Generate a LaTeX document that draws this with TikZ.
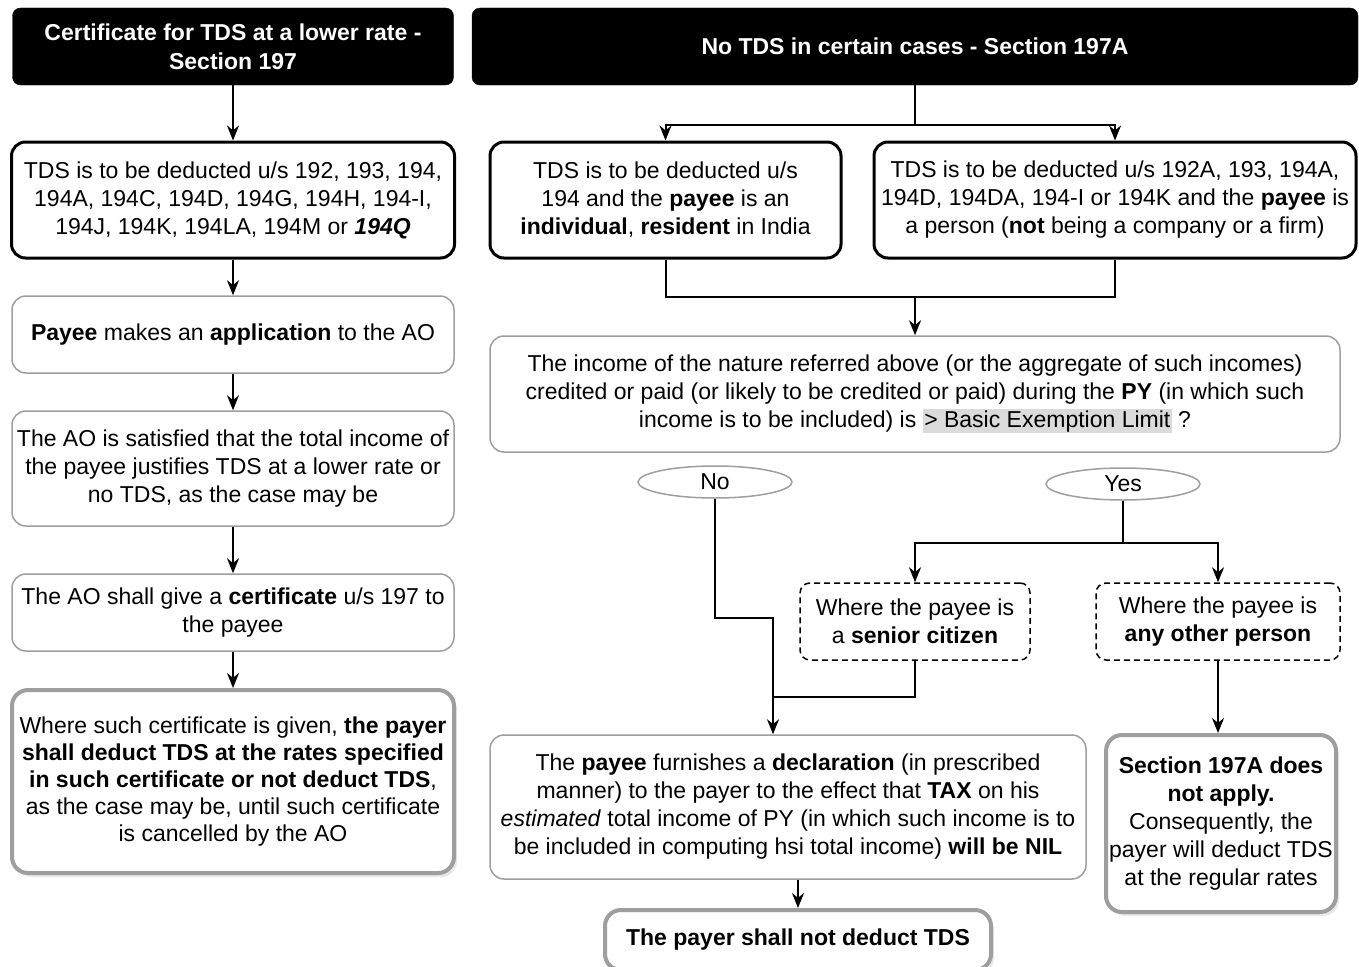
\documentclass[tikz,border=0pt]{standalone}
\usepackage{fontspec}
\setmainfont{Liberation Sans}
\usetikzlibrary{shapes.geometric,shadows,arrows.meta}
\definecolor{boxgray}{gray}{0.62}
\definecolor{hlgray}{gray}{0.86}
\setlength{\fboxsep}{1.5pt}
\begin{document}
\begin{tikzpicture}[x=1pt,y=-1pt,
		every node/.style={font=\fontsize{23}{28}\selectfont, align=center, inner sep=0pt},
		head/.style={fill=black, draw=black, rounded corners=8pt, text=white, font=\fontsize{23}{29}\selectfont\bfseries},
		hard/.style={draw=black, line width=3pt, rounded corners=14pt},
		soft/.style={draw=boxgray, line width=1.5pt, rounded corners=14pt},
		heavy/.style={draw=boxgray, line width=4pt, rounded corners=16pt, fill=white,
			drop shadow={shadow xshift=3pt, shadow yshift=-4pt, opacity=0.18}},
		dashbox/.style={draw=black, line width=1.5pt, dash pattern=on 6pt off 4pt, rounded corners=10pt},
		answer/.style={ellipse, draw=boxgray, line width=1.5pt, minimum width=154pt, minimum height=32pt},
		line/.style={draw, line width=2pt},
		arr/.style={line, -{Stealth[length=15pt,width=12pt]}}]
	\useasboundingbox (0,0) rectangle (1359,966);

	\node[head, minimum width=441pt, minimum height=77pt] (cert) at (233,46.5) {Certificate for TDS at a lower rate -\\Section 197};
	\node[hard, minimum width=443pt, minimum height=116pt] (cond) at (233,200) {TDS is to be deducted u/s 192, 193, 194,\\194A, 194C, 194D, 194G, 194H, 194-I,\\194J, 194K, 194LA, 194M or \textbf{\textit{194Q}}};
	\node[soft, minimum width=442pt, minimum height=77pt] (appl) at (233,334.5) {\textbf{Payee} makes an \textbf{application} to the AO};
	\node[soft, minimum width=442pt, minimum height=115pt] (satis) at (233,468.5) {The AO is satisfied that the total income of\\the payee justifies TDS at a lower rate or\\no TDS, as the case may be};
	\node[soft, minimum width=442pt, minimum height=77pt] (give) at (233,612.5) {The AO shall give a \textbf{certificate} u/s 197 to\\the payee};
	\node[heavy, minimum width=442pt, minimum height=183pt, font=\fontsize{23}{27}\selectfont] (deduct) at (233,781.5) {Where such certificate is given, \textbf{the payer}\\\textbf{shall deduct TDS at the rates specified}\\\textbf{in such certificate or not deduct TDS},\\as the case may be, until such certificate\\is cancelled by the AO};
	\foreach \a/\b in {cert/cond,cond/appl,appl/satis,satis/give,give/deduct}
		\draw[arr] (\a) -- (\b);

	\node[head, minimum width=886pt, minimum height=77pt] (notds) at (915,46.5) {No TDS in certain cases - Section 197A};
	\node[hard, minimum width=351pt, minimum height=116pt] (case1) at (665.5,200) {TDS is to be deducted u/s\\194 and the \textbf{payee} is an\\\textbf{individual}, \textbf{resident} in India};
	\node[hard, minimum width=482pt, minimum height=116pt] (case2) at (1115,200) {TDS is to be deducted u/s 192A, 193, 194A,\\194D, 194DA, 194-I or 194K and the \textbf{payee} is\\a person (\textbf{not} being a company or a firm)};
	\node[soft, minimum width=850pt, minimum height=116pt] (income) at (915,394) {The income of the nature referred above (or the aggregate of such incomes)\\credited or paid (or likely to be credited or paid) during the \textbf{PY} (in which such\\income is to be included) is \colorbox{hlgray}{> Basic Exemption Limit} ?};
	\node[answer] (no) at (715,482) {No};
	\node[answer] (yes) at (1123,484) {Yes};
	\node[dashbox, minimum width=230pt, minimum height=77pt] (senior) at (915,621.5) {Where the payee is\\a \textbf{senior citizen}};
	\node[dashbox, minimum width=244pt, minimum height=77pt] (other) at (1218,621.5) {Where the payee is\\\textbf{any other person}};
	\node[soft, minimum width=596pt, minimum height=144pt] (decl) at (788,807) {The \textbf{payee} furnishes a \textbf{declaration} (in prescribed\\manner) to the payer to the effect that \textbf{TAX} on his\\\textit{estimated} total income of PY (in which such income is to\\be included in computing hsi total income) \textbf{will be NIL}};
	\node[heavy, minimum width=230pt, minimum height=177pt] (notapply) at (1221,823.5) {\textbf{Section 197A does}\\\textbf{not apply.}\\Consequently, the\\payer will deduct TDS\\at the regular rates};
	\node[heavy, minimum width=386pt, minimum height=60pt] (nodeduct) at (798,940) {\textbf{The payer shall not deduct TDS}};

	\coordinate (split) at (915,125);
	\coordinate (merge) at (915,297);
	\coordinate (fork) at (1123,543);
	\coordinate (turn) at (773,618);
	\coordinate (join) at (773,697);
	\draw[line] (notds) -- (split);
	\draw[arr] (split) -| (case1);
	\draw[arr] (split) -| (case2);
	\draw[line] (case1) |- (merge);
	\draw[line] (case2) |- (merge);
	\draw[arr] (merge) -- (income);
	\draw[line] (yes) -- (fork);
	\draw[arr] (fork) -| (senior);
	\draw[arr] (fork) -| (other);
	\draw[arr] (no) |- (turn) -- (turn |- decl.north);
	\draw[line] (senior) |- (join);
	\draw[arr] (other.south) -- (other.south |- notapply.north);
	\draw[arr] (nodeduct.north |- decl.south) -- (nodeduct);
\end{tikzpicture}
\end{document}
